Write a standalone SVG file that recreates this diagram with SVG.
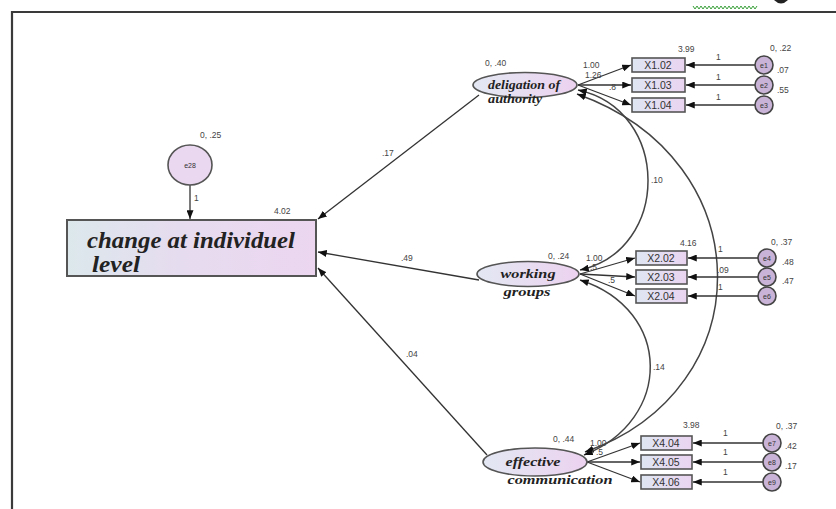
<svg xmlns="http://www.w3.org/2000/svg" width="836" height="509" viewBox="0 0 836 509">
<defs>
<linearGradient id="gBox" x1="0" y1="0" x2="1" y2="0">
<stop offset="0" stop-color="#dce8ec"/><stop offset="0.45" stop-color="#e6dcef"/><stop offset="1" stop-color="#ecd6f0"/>
</linearGradient>
<linearGradient id="gObs" x1="0" y1="0" x2="1" y2="0">
<stop offset="0" stop-color="#dfe6f2"/><stop offset="1" stop-color="#ead4f0"/>
</linearGradient>
<linearGradient id="gLat" x1="0" y1="0" x2="1" y2="0">
<stop offset="0" stop-color="#e3e8f3"/><stop offset="1" stop-color="#ecd2ef"/>
</linearGradient>
<marker id="ah" viewBox="0 0 10 8" refX="10" refY="4" markerWidth="9" markerHeight="7" markerUnits="userSpaceOnUse" orient="auto-start-reverse">
<path d="M0,0 L10,4 L0,8 Z" fill="#111"/>
</marker>
<style>
.ln{stroke:#333;stroke-width:1.3;fill:none}
.cov{stroke:#444;stroke-width:1.5;fill:none}
.obs{fill:url(#gObs);stroke:#555;stroke-width:1.6}
.lat{fill:url(#gLat);stroke:#555;stroke-width:1.6}
.err{fill:#c9b3d6;stroke:#444;stroke-width:1.6}
.t{font-family:"Liberation Sans",Arial,sans-serif;font-size:8.5px;fill:#444}
.ot{font-family:"Liberation Sans",Arial,sans-serif;font-size:10.5px;fill:#333;text-anchor:middle}
.et{font-family:"Liberation Sans",Arial,sans-serif;font-size:7px;fill:#333;text-anchor:middle}
.lt{font-family:"Liberation Serif","Times New Roman",serif;font-size:13px;font-weight:bold;font-style:italic;fill:#222;text-anchor:middle}
.mt{font-family:"Liberation Serif","Times New Roman",serif;font-size:23px;font-weight:bold;font-style:italic;fill:#222}
</style>
</defs>
<rect width="836" height="509" fill="#fff"/>
<g id="frame">
<path d="M12,509 V12 H836" fill="none" stroke="#3a3a3a" stroke-width="2.2"/>
<polyline points="693,6 695,9 697,6 699,9 701,6 703,9 705,6 707,9 709,6 711,9 713,6 715,9 717,6 719,9 721,6 723,9 725,6 727,9 729,6 731,9 733,6 735,9 737,6 739,9 741,6 743,9 745,6 747,9 749,6 751,9 753,6 755,9 757,6" fill="none" stroke="#3aa13a" stroke-width="1"/>
<path d="M774,0 Q781,7 788,0 Z" fill="#222"/>
</g>
<g id="connectors">
<line class="ln" x1="190" y1="185" x2="190" y2="219" marker-end="url(#ah)"/>
<line class="ln" x1="479" y1="95" x2="318" y2="219" marker-end="url(#ah)"/>
<line class="ln" x1="479" y1="280" x2="318" y2="252" marker-end="url(#ah)"/>
<line class="ln" x1="487" y1="455" x2="318" y2="268" marker-end="url(#ah)"/>
<path class="cov" d="M578,90 C671,110 671,250 580,270" marker-start="url(#ah)" marker-end="url(#ah)"/>
<path class="cov" d="M577,94 C763,160 763,390 585,452" marker-start="url(#ah)" marker-end="url(#ah)"/>
<path class="cov" d="M580,280 C673,310 673,420 584,455" marker-start="url(#ah)" marker-end="url(#ah)"/>
<line class="ln" x1="578" y1="85" x2="631" y2="65" marker-end="url(#ah)"/>
<line class="ln" x1="578" y1="85" x2="631" y2="85" marker-end="url(#ah)"/>
<line class="ln" x1="578" y1="85" x2="631" y2="105" marker-end="url(#ah)"/>
<line class="ln" x1="580" y1="274" x2="635" y2="258" marker-end="url(#ah)"/>
<line class="ln" x1="580" y1="274" x2="635" y2="277" marker-end="url(#ah)"/>
<line class="ln" x1="580" y1="274" x2="635" y2="296" marker-end="url(#ah)"/>
<line class="ln" x1="587" y1="462" x2="640" y2="443" marker-end="url(#ah)"/>
<line class="ln" x1="587" y1="462" x2="640" y2="462" marker-end="url(#ah)"/>
<line class="ln" x1="587" y1="462" x2="640" y2="482" marker-end="url(#ah)"/>
<line class="ln" x1="755" y1="65" x2="686" y2="65" marker-end="url(#ah)"/>
<line class="ln" x1="755" y1="85" x2="686" y2="85" marker-end="url(#ah)"/>
<line class="ln" x1="755" y1="105" x2="686" y2="105" marker-end="url(#ah)"/>
<line class="ln" x1="758" y1="258" x2="688" y2="258" marker-end="url(#ah)"/>
<line class="ln" x1="758" y1="277" x2="688" y2="277" marker-end="url(#ah)"/>
<line class="ln" x1="758" y1="296" x2="688" y2="296" marker-end="url(#ah)"/>
<line class="ln" x1="763" y1="443" x2="693" y2="443" marker-end="url(#ah)"/>
<line class="ln" x1="763" y1="462" x2="693" y2="462" marker-end="url(#ah)"/>
<line class="ln" x1="763" y1="482" x2="693" y2="482" marker-end="url(#ah)"/>
</g>
<g id="edge-labels">
<text class="t" x="194" y="201">1</text>
<text class="t" x="382" y="156">.17</text>
<text class="t" x="401" y="261">.49</text>
<text class="t" x="406" y="357">.04</text>
<text class="t" x="651" y="183">.10</text>
<text class="t" x="717" y="273">.09</text>
<text class="t" x="653" y="370">.14</text>
<text class="t" x="583" y="68">1.00</text>
<text class="t" x="585" y="78">1.26</text>
<text class="t" x="609" y="90">.8</text>
<text class="t" x="586" y="261">1.00</text>
<text class="t" x="590" y="270">.5</text>
<text class="t" x="608" y="283">.5</text>
<text class="t" x="590" y="446">1.00</text>
<text class="t" x="596" y="455">.5</text>
<text class="t" x="716" y="60">1</text>
<text class="t" x="716" y="80">1</text>
<text class="t" x="716" y="100">1</text>
<text class="t" x="718" y="252">1</text>
<text class="t" x="718" y="290">1</text>
<text class="t" x="723" y="436">1</text>
<text class="t" x="723" y="455">1</text>
<text class="t" x="723" y="475">1</text>
</g>
<g id="e28">
<ellipse cx="190" cy="165" rx="22" ry="20" fill="#ead8f0" stroke="#555" stroke-width="1.6"/>
<text class="et" x="190" y="168">e28</text>
<text class="t" x="200" y="138">0, .25</text>
</g>
<g id="change">
<rect x="67" y="220" width="249" height="56" fill="url(#gBox)" stroke="#555" stroke-width="2"/>
<text class="mt" x="87" y="248" textLength="208" lengthAdjust="spacingAndGlyphs">change at individuel</text>
<text class="mt" x="92" y="272" textLength="48" lengthAdjust="spacingAndGlyphs">level</text>
<text class="t" x="274" y="214">4.02</text>
</g>
<g id="deligation">
<ellipse class="lat" cx="525" cy="85" rx="52" ry="12.5"/>
<text class="lt" x="524" y="89" textLength="72" lengthAdjust="spacingAndGlyphs">deligation of</text>
<text class="lt" x="515" y="103" textLength="54" lengthAdjust="spacingAndGlyphs">authority</text>
<text class="t" x="485" y="66">0, .40</text>
</g>
<g id="working">
<ellipse class="lat" cx="528" cy="274" rx="51" ry="12.5"/>
<text class="lt" x="528" y="278" textLength="55" lengthAdjust="spacingAndGlyphs">working</text>
<text class="lt" x="527" y="296" textLength="47" lengthAdjust="spacingAndGlyphs">groups</text>
<text class="t" x="548" y="259">0, .24</text>
</g>
<g id="effective">
<ellipse class="lat" cx="535" cy="462" rx="52" ry="14"/>
<text class="lt" x="533" y="466" textLength="55" lengthAdjust="spacingAndGlyphs">effective</text>
<text class="lt" x="560" y="484" textLength="105" lengthAdjust="spacingAndGlyphs">communication</text>
<text class="t" x="553" y="442">0, .44</text>
</g>
<g id="x1">
<rect class="obs" x="632" y="58" width="53" height="14"/><text class="ot" x="658" y="69">X1.02</text>
<rect class="obs" x="632" y="78" width="53" height="14"/><text class="ot" x="658" y="89">X1.03</text>
<rect class="obs" x="632" y="98" width="53" height="14"/><text class="ot" x="658" y="109">X1.04</text>
<text class="t" x="678" y="52">3.99</text>
</g>
<g id="x2">
<rect class="obs" x="636" y="251" width="51" height="14"/><text class="ot" x="661" y="262">X2.02</text>
<rect class="obs" x="636" y="270" width="51" height="14"/><text class="ot" x="661" y="281">X2.03</text>
<rect class="obs" x="636" y="289" width="51" height="14"/><text class="ot" x="661" y="300">X2.04</text>
<text class="t" x="680" y="246">4.16</text>
</g>
<g id="x4">
<rect class="obs" x="641" y="436" width="51" height="14"/><text class="ot" x="666" y="447">X4.04</text>
<rect class="obs" x="641" y="455" width="51" height="14"/><text class="ot" x="666" y="466">X4.05</text>
<rect class="obs" x="641" y="475" width="51" height="14"/><text class="ot" x="666" y="486">X4.06</text>
<text class="t" x="683" y="428">3.98</text>
</g>
<g id="errors">
<circle class="err" cx="764" cy="65" r="9"/><text class="et" x="764" y="68">e1</text>
<circle class="err" cx="764" cy="85" r="9"/><text class="et" x="764" y="88">e2</text>
<circle class="err" cx="764" cy="105" r="9"/><text class="et" x="764" y="108">e3</text>
<text class="t" x="770" y="51">0, .22</text>
<text class="t" x="777" y="73">.07</text>
<text class="t" x="777" y="93">.55</text>
<circle class="err" cx="767" cy="258" r="9"/><text class="et" x="767" y="261">e4</text>
<circle class="err" cx="767" cy="277" r="9"/><text class="et" x="767" y="280">e5</text>
<circle class="err" cx="767" cy="296" r="9"/><text class="et" x="767" y="299">e6</text>
<text class="t" x="771" y="245">0, .37</text>
<text class="t" x="782" y="265">.48</text>
<text class="t" x="782" y="284">.47</text>
<circle class="err" cx="772" cy="443" r="9"/><text class="et" x="772" y="446">e7</text>
<circle class="err" cx="772" cy="462" r="9"/><text class="et" x="772" y="465">e8</text>
<circle class="err" cx="772" cy="482" r="9"/><text class="et" x="772" y="485">e9</text>
<text class="t" x="776" y="429">0, .37</text>
<text class="t" x="785" y="449">.42</text>
<text class="t" x="785" y="469">.17</text>
</g>
</svg>
